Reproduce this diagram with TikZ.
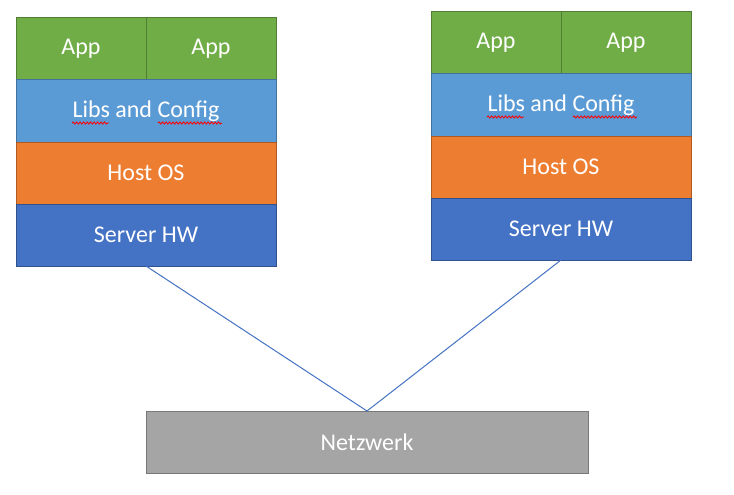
\documentclass[tikz,border=0pt]{standalone}
\usepackage{fontspec}
\setmainfont{Carlito}
\usepackage{xcolor}
\usepackage{tikz}
\usetikzlibrary{positioning, calc, decorations.pathmorphing}

\definecolor{appgreen}{HTML}{70AD47}
\definecolor{appgreenD}{HTML}{507E32}
\definecolor{libblue}{HTML}{5B9BD5}
\definecolor{libblueD}{HTML}{41719C}
\definecolor{osorange}{HTML}{ED7D31}
\definecolor{osorangeD}{HTML}{AE5A21}
\definecolor{hwblue}{HTML}{4472C4}
\definecolor{hwblueD}{HTML}{2F528F}
\definecolor{netgray}{HTML}{A5A5A5}
\definecolor{netgrayD}{HTML}{787878}

\begin{document}
\begin{tikzpicture}[
  x=1pt, y=-1pt,
  node distance=0pt and 0pt,
  layer/.style={draw, rectangle, line width=1pt, outer sep=0pt, inner sep=0pt,
                minimum width=260pt, minimum height=62pt,
                text=white, font=\fontsize{24}{29}\selectfont},
  app/.style={layer, minimum width=130pt, fill=appgreen, draw=appgreenD},
  libs/.style={layer, fill=libblue, draw=libblueD},
  hostos/.style={layer, fill=osorange, draw=osorangeD},
  hw/.style={layer, fill=hwblue, draw=hwblueD},
  net/.style={layer, minimum width=442pt, fill=netgray, draw=netgrayD},
  link/.style={draw=hwblue, line width=1pt},
  squiggle/.style={draw=red, line width=0.9pt,
                   decorate, decoration={snake, segment length=3.5pt, amplitude=1pt}},
]
\useasboundingbox (0,0) rectangle (734,495);

%% Left server
\node[app, anchor=north west] (lappA) at (16,18) {App};
\node[app, right=of lappA] (lappB) {App};
\node[libs, below right=of lappA.south west] (llibs) {Libs and Config};
\node[hostos, below=of llibs] (lhost) {Host OS};
\node[hw, below=of lhost] (lhw) {Server HW};

%% Right server
\node[app, anchor=north west] (rappA) at (431,12) {App};
\node[app, right=of rappA] (rappB) {App};
\node[libs, below right=of rappA.south west] (rlibs) {Libs and Config};
\node[hostos, below=of rlibs] (rhost) {Host OS};
\node[hw, below=of rhost] (rhw) {Server HW};

%% Network
\node[net, anchor=north west] (net) at (146,411) {Netzwerk};

%% Spell-check marks
\foreach \s in {llibs, rlibs} {
  \draw[squiggle] ($(\s.center)+(-74,12)$) -- ($(\s.center)+(-37,12)$);
  \draw[squiggle] ($(\s.center)+(12,12)$) -- ($(\s.center)+(76,12)$);
}

%% Links
\draw[link] (lhw.south) -- (net.north);
\draw[link] (rhw.south) -- (net.north);

\end{tikzpicture}
\end{document}
